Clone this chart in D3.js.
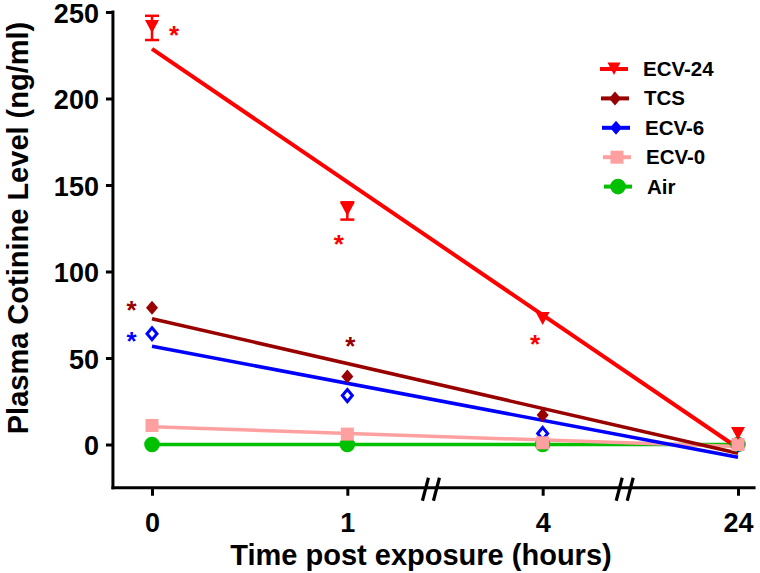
<!DOCTYPE html>
<html><head><meta charset="utf-8">
<script src="https://cdn.jsdelivr.net/npm/d3@7"></script>
<style>body{margin:0;background:#fff}svg{display:block}</style>
</head><body>
<svg id="chart" width="760" height="573"></svg>
<script>
// ---- data ----
const timeLabels = ["0", "1", "4", "24"];
const yTicks = [0, 50, 100, 150, 200, 250];
const seriesNames = ["ECV-24", "TCS", "ECV-6", "ECV-0", "Air"];
const ecv24 = [240.8, 135, 72, 5.5];
const tcs = [79, 39.3, 17, 0];
const ecv6 = [64, 28.3, 6.4, 0];
const ecv0 = [11, 6, 1, 0];
const air = [0, 0, 0, 0];
const ecv24Err = [7, 5, 0, 0];
// significance asterisks: [series index, x (time index units), value]
const stars = [[0, 0.113, 240], [0, 0.957, 119], [0, 1.961, 61], [1, -0.105, 81], [1, 1.015, 60.4], [2, -0.105, 63]];
const axisBreaks = [1.428, 2.42];

const colors = ["#FF0000", "#990000", "#0000FF", "#FFA0A0", "#00C000"];
const allSeries = [ecv24, tcs, ecv6, ecv0, air];

const svg = d3.select("#chart");
const FONT = "'Liberation Sans', Arial, Helvetica, sans-serif";

const x = d3.scaleLinear().domain([0, 3]).range([152, 738]);
const y = d3.scaleLinear().domain([0, 250]).range([444.5, 12]);
const xAxisY = y(-25);
const yAxisX = x(-0.2);

// ---- axes ----
const gy = svg.append("g").attr("transform", `translate(${yAxisX},0)`)
  .call(d3.axisLeft(y).tickValues(yTicks).tickSize(7).tickPadding(7).tickSizeOuter(0));
gy.select(".domain").remove();
gy.selectAll(".tick line").attr("stroke", "#000").attr("stroke-width", 3);
gy.selectAll(".tick text").attr("font-family", FONT).attr("font-weight", "bold")
  .attr("font-size", 27).attr("fill", "#000").attr("dy", "0.38em");
svg.append("line").attr("x1", yAxisX).attr("x2", yAxisX)
  .attr("y1", y(250) - 1.5).attr("y2", xAxisY + 1.5)
  .attr("stroke", "#000").attr("stroke-width", 3);

const gx = svg.append("g").attr("transform", `translate(0,${xAxisY})`)
  .call(d3.axisBottom(x).tickValues([0, 1, 2, 3]).tickFormat(i => timeLabels[i])
    .tickSize(8).tickPadding(17).tickSizeOuter(0));
gx.select(".domain").remove();
gx.selectAll(".tick line").attr("stroke", "#000").attr("stroke-width", 3);
gx.selectAll(".tick text").attr("font-family", FONT).attr("font-weight", "bold")
  .attr("font-size", 27).attr("fill", "#000");
svg.append("line").attr("x1", yAxisX - 1.5).attr("x2", x(3.09))
  .attr("y1", xAxisY).attr("y2", xAxisY)
  .attr("stroke", "#000").attr("stroke-width", 3);

// axis breaks
axisBreaks.forEach(b => {
  const cx = x(b);
  [-5.5, 5.5].forEach(o => {
    svg.append("line")
      .attr("x1", cx + o + 3).attr("y1", xAxisY - 10)
      .attr("x2", cx + o - 3).attr("y2", xAxisY + 13)
      .attr("stroke", "#000").attr("stroke-width", 3.2);
  });
});

// axis titles
svg.append("text").attr("x", 421).attr("y", 565).attr("text-anchor", "middle")
  .attr("font-family", FONT).attr("font-weight", "bold").attr("font-size", 29)
  .text("Time post exposure (hours)");
svg.append("text").attr("transform", "translate(28,228) rotate(-90)").attr("text-anchor", "middle")
  .attr("font-family", FONT).attr("font-weight", "bold").attr("font-size", 29)
  .text("Plasma Cotinine Level (ng/ml)");

// ---- regression lines ----
function fit(vals) {
  const xs = vals.map((_, i) => i);
  const mx = d3.mean(xs), my = d3.mean(vals);
  const sxy = d3.sum(xs, (xi, i) => (xi - mx) * (vals[i] - my));
  const sxx = d3.sum(xs, xi => (xi - mx) ** 2);
  const slope = sxy / sxx;
  return { slope, intercept: my - slope * mx };
}
const lineOrder = [4, 3, 2, 1, 0];
lineOrder.forEach(si => {
  const f = fit(allSeries[si]);
  svg.append("line")
    .attr("x1", x(0)).attr("y1", y(f.intercept))
    .attr("x2", x(3)).attr("y2", y(f.intercept + f.slope * 3))
    .attr("stroke", colors[si]).attr("stroke-width", si === 0 ? 4 : 3.5);
});

// ---- markers ----
const triPath = "M-7,-8L7,-8L0,5Z";
const diamondPath = "M0,-7L6,0L0,7L-6,0Z";
const openDiamondPath = "M0,-6L5,0L0,6L-5,0Z";

function drawMarker(g, si, cx, cy, legend) {
  const c = colors[si];
  if (si === 0) {
    g.append("path").attr("d", legend ? "M-6.5,-6.5L6.5,-6.5L0,6Z" : triPath)
      .attr("transform", `translate(${cx},${cy})`).attr("fill", c);
  } else if (si === 1) {
    g.append("path").attr("d", diamondPath).attr("transform", `translate(${cx},${cy})`).attr("fill", c);
  } else if (si === 2) {
    if (legend) g.append("path").attr("d", diamondPath).attr("transform", `translate(${cx},${cy})`).attr("fill", c);
    else g.append("path").attr("d", openDiamondPath).attr("transform", `translate(${cx},${cy})`)
      .attr("fill", "#fff").attr("stroke", c).attr("stroke-width", 3);
  } else if (si === 3) {
    g.append("rect").attr("x", cx - 6.5).attr("y", cy - 6.5).attr("width", 13).attr("height", 13).attr("fill", c);
  } else {
    g.append("circle").attr("cx", cx).attr("cy", cy).attr("r", 7.8).attr("fill", c);
  }
}

// error bars for ECV-24
const gErr = svg.append("g").attr("stroke", colors[0]).attr("stroke-width", 2.5);
ecv24.forEach((v, i) => {
  const e = ecv24Err[i];
  if (!e) return;
  gErr.append("line").attr("x1", x(i)).attr("x2", x(i)).attr("y1", y(v + e)).attr("y2", y(v - e));
  [v + e, v - e].forEach(ev => gErr.append("line").attr("x1", x(i) - 7).attr("x2", x(i) + 7)
    .attr("y1", y(ev)).attr("y2", y(ev)));
});

const markerOrder = [4, 2, 1, 3, 0];
const gM = svg.append("g");
markerOrder.forEach(si => {
  allSeries[si].forEach((v, i) => drawMarker(gM, si, x(i), y(v), false));
});

// asterisks
svg.append("g").selectAll("text").data(stars).join("text")
  .attr("x", d => x(d[1])).attr("y", d => y(d[2]) + 14.5)
  .attr("text-anchor", "middle").attr("font-family", FONT).attr("font-weight", "bold")
  .attr("font-size", 26).attr("fill", d => colors[d[0]]).text("*");

// ---- legend ----
const gL = svg.append("g");
seriesNames.forEach((name, i) => {
  const ly = 69 + i * 29.4;
  const lx = 600 + i * 1;
  gL.append("line").attr("x1", lx).attr("x2", lx + 28).attr("y1", ly).attr("y2", ly)
    .attr("stroke", colors[i]).attr("stroke-width", 4);
  drawMarker(gL, i, lx + 14, ly, true);
  gL.append("text").attr("x", 643 + i * 1).attr("y", ly + 7)
    .attr("font-family", FONT).attr("font-weight", "bold").attr("font-size", 20.5)
    .attr("fill", "#000").text(name);
});
</script>
</body></html>
